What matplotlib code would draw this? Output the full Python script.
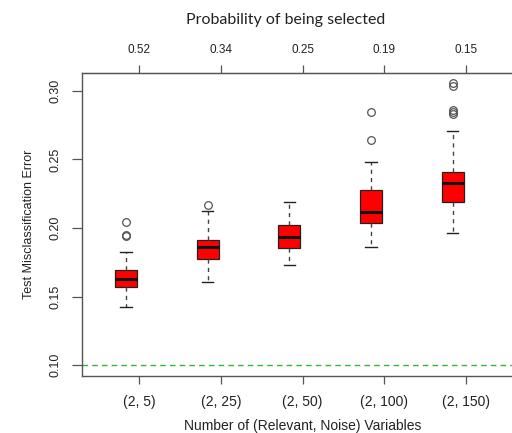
import numpy as np
from matplotlib import pyplot as plt

# box statistics
groups = ["(2, 5)", "(2, 25)", "(2, 50)", "(2, 100)", "(2, 150)"]
probs = ["0.52", "0.34", "0.25", "0.19", "0.15"]
whislo = [0.1426, 0.1604, 0.1728, 0.1861, 0.1961]
q1 = [0.1569, 0.1774, 0.1854, 0.2039, 0.2190]
med = [0.1628, 0.1864, 0.1932, 0.2115, 0.2328]
q3 = [0.1693, 0.1912, 0.2024, 0.2275, 0.2407]
whishi = [0.1827, 0.2124, 0.2192, 0.2480, 0.2708]
fliers = [
    [0.1944, 0.1950, 0.2044],
    [0.2166],
    [],
    [0.2640, 0.2849],
    [0.2832, 0.2845, 0.2861, 0.3036, 0.3056],
]
baseline = 0.10

stats = []
for i in range(len(groups)):
    stats.append(dict(whislo=whislo[i], q1=q1[i], med=med[i], q3=q3[i],
                      whishi=whishi[i], fliers=fliers[i]))

W, H = 512, 433
fig = plt.figure(figsize=(W / 100, H / 100), dpi=100)
ax = fig.add_axes([82 / W, 1 - 376 / H, (523 - 82) / W, (376 - 73) / H])

ticks = np.arange(1, len(groups) + 1)
pos = ticks - 0.16  # boxes sit a little left of the ticks in the original

ax.bxp(stats, positions=pos, widths=0.27, patch_artist=True,
       boxprops=dict(facecolor="#ff0000", edgecolor="#222222", linewidth=0.9),
       medianprops=dict(color="#111111", linewidth=2.2),
       whiskerprops=dict(color="#444444", linestyle=(0, (3, 3)), linewidth=1),
       capprops=dict(color="#222222", linewidth=1),
       flierprops=dict(marker="o", markerfacecolor="none", markeredgecolor="#555555",
                       markersize=5.5, markeredgewidth=0.9),
       capwidths=0.14)

ax.axhline(baseline, color="#33b833", linestyle=(0, (4, 3)), linewidth=1)

ax.set_xlim(0.3, 5.7)
ax.set_ylim(0.092, 0.3131)
ax.set_xticks(ticks)
ax.set_xticklabels(groups, fontsize=10, family="Liberation Sans", color="#222222")
ax.set_yticks([0.10, 0.15, 0.20, 0.25, 0.30])
ax.set_yticklabels(["0.10", "0.15", "0.20", "0.25", "0.30"], rotation=90,
                   va="center", fontsize=9, family="Liberation Sans", color="#222222")
ax.tick_params(axis="x", length=6, width=0.9, color="#555555", pad=8)
ax.tick_params(axis="y", length=7, width=0.9, color="#555555", pad=8)
for s in ax.spines.values():
    s.set_color("#555555")
    s.set_linewidth(1)

ax.set_xlabel("Number of (Relevant, Noise) Variables", fontsize=10,
              family="Liberation Sans", color="#222222", labelpad=7)
ax.set_ylabel("Test Misclassification Error", fontsize=9,
              family="Liberation Sans", color="#222222", labelpad=10)

top = ax.secondary_xaxis("top")
top.set_xticks(ticks)
top.set_xticklabels(probs, fontsize=8.5, family="Liberation Sans", color="#222222")
top.tick_params(length=6, width=0.9, color="#555555", pad=6)
top.spines["top"].set_color("#555555")

fig.text(286 / W, 1 - 20 / H, "Probability of being selected", fontsize=11.5,
         family="Lato", color="#222222", ha="center", va="center")

fig.savefig("out.png", dpi=100)
